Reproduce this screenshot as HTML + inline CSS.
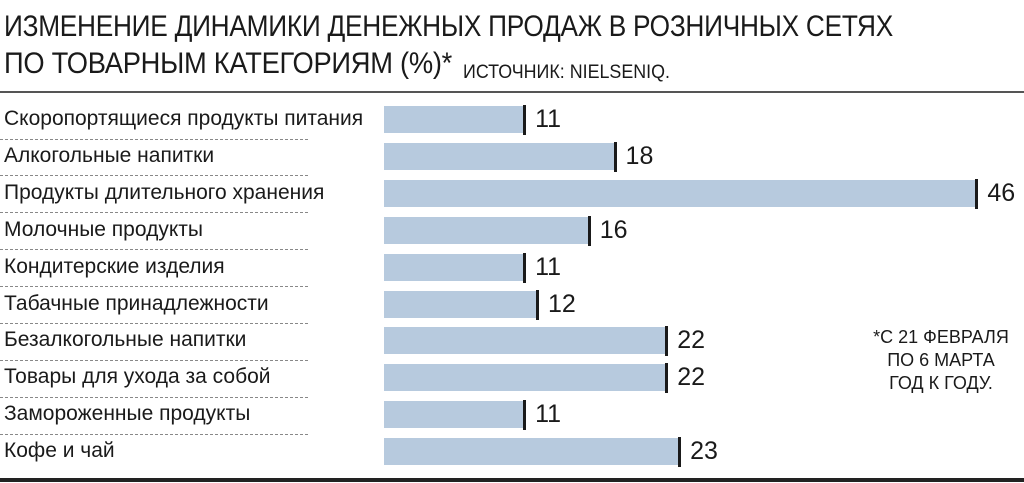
<!DOCTYPE html>
<html><head><meta charset="utf-8"><style>
body{margin:0;width:1024px;height:483px;background:#fff;position:relative;overflow:hidden;font-family:"Liberation Sans Narrow","Liberation Sans",sans-serif;color:#1a1a1a}
.t{position:absolute;left:4px;font-size:30px;white-space:nowrap;letter-spacing:-0.3px;transform-origin:0 0}
.src{position:absolute;left:463px;top:62px;font-size:19px;transform:scaleX(0.94);transform-origin:0 0;white-space:nowrap}
.hl{position:absolute;left:0;width:1024px}
.lab{position:absolute;left:4px;font-size:21px;white-space:nowrap}
.dash{position:absolute;left:0;width:308px;border-top:1px dashed #888}
.bar{position:absolute;left:384px;height:27px;background:#b7cade}
.tick{position:absolute;width:3px;height:30px;background:#1a1a1a}
.val{position:absolute;font-size:25px}
.note{position:absolute;left:866px;top:326px;font-size:18px;line-height:23px;text-align:center;width:150px}
</style></head><body>
<div class="t" style="top:10px;transform:scaleX(0.875)">ИЗМЕНЕНИЕ ДИНАМИКИ ДЕНЕЖНЫХ ПРОДАЖ В РОЗНИЧНЫХ СЕТЯХ</div>
<div class="t" style="top:47px;transform:scaleX(0.91)">ПО ТОВАРНЫМ КАТЕГОРИЯМ (%)*</div>
<div class="src">ИСТОЧНИК: NIELSENIQ.</div>
<div class="hl" style="top:91px;height:2px;background:#555"></div>
<div class="hl" style="top:478px;height:4px;background:#222"></div>
<div class="note">*С 21 ФЕВРАЛЯ<br>ПО 6 МАРТА<br>ГОД К ГОДУ.</div>
<div id="rows"></div>
<script>
var d=[["Скоропортящиеся продукты питания",11],["Алкогольные напитки",18],["Продукты длительного хранения",46],["Молочные продукты",16],["Кондитерские изделия",11],["Табачные принадлежности",12],["Безалкогольные напитки",22],["Товары для ухода за собой",22],["Замороженные продукты",11],["Кофе и чай",23]];
var h="";
d.forEach(function(r,i){var c=120+i*36.9;var w=r[1]*12.92;
h+='<div class="lab" style="top:'+(c-13)+'px">'+r[0]+'</div>';
if(i<9)h+='<div class="dash" style="top:'+(c+18.5)+'px"></div>';
h+='<div class="bar" style="top:'+(c-14)+'px;width:'+w+'px"></div>';
h+='<div class="tick" style="top:'+(c-15)+'px;left:'+(384+w-3)+'px"></div>';
h+='<div class="val" style="top:'+(c-15)+'px;left:'+(384+w+9)+'px">'+r[1]+'</div>';});
document.getElementById("rows").innerHTML=h;
</script>
</body></html>
